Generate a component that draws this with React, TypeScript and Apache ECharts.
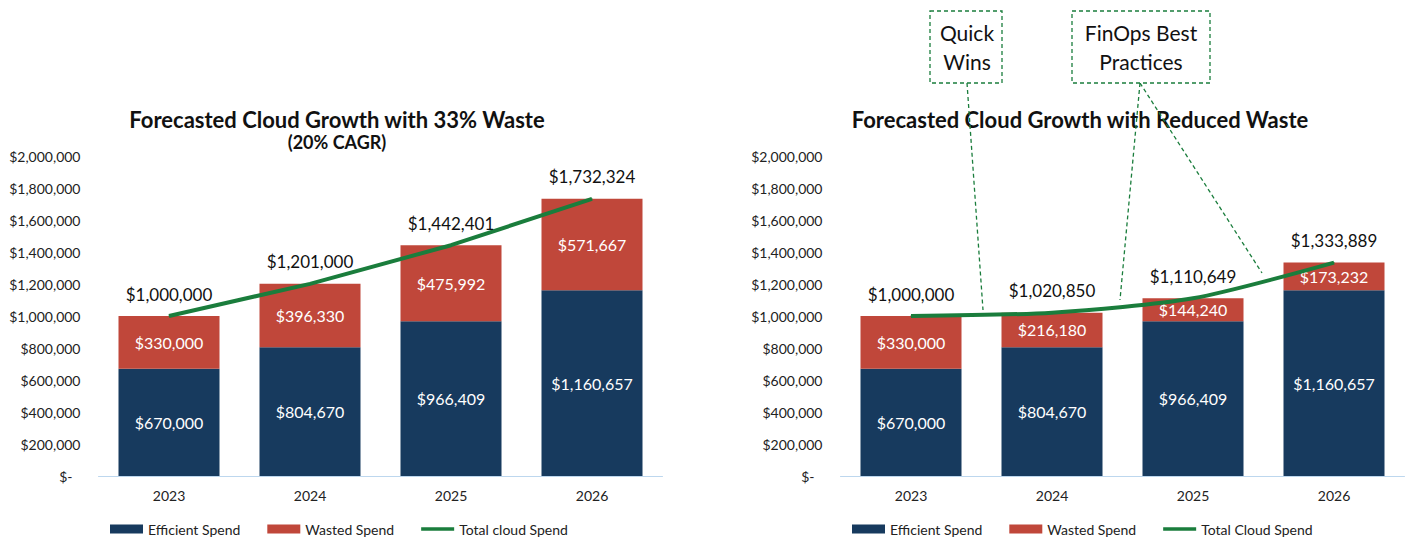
import React, { useEffect, useRef } from "react";
import * as echarts from "echarts";

const years = ["2023", "2024", "2025", "2026"];
const efficientSpend = [670000, 804670, 966409, 1160657];
const wastedLeft = [330000, 396330, 475992, 571667];
const totalLeft = [1000000, 1201000, 1442401, 1732324];
const wastedRight = [330000, 216180, 144240, 173232];
const totalRight = [1000000, 1020850, 1110649, 1333889];

const FONT = "Lato";
const NAVY = "#173a5e";
const RED = "#c0473a";
const GREEN = "#1a7d3c";
const LINE_ICON = "path://M0,0 L36,0 L36,4 L0,4 Z";

const money = (v: number) => "$" + Math.round(v).toLocaleString("en-US");

export default function App() {
  const ref = useRef<HTMLDivElement>(null);
  useEffect(() => {
    document.body.style.margin = "0";
    const chart = echarts.init(ref.current!, null, { renderer: "svg" });
    const yAxisCommon = {
      type: "value" as const,
      min: 0,
      max: 2000000,
      interval: 200000,
      splitLine: { show: false },
      axisLine: { show: false },
      axisTick: { show: false },
      axisLabel: {
        margin: 18,
        fontFamily: FONT,
        fontSize: 14,
        color: "#222",
        formatter: (v: number) => (v === 0 ? "{d|$-}" : money(v)),
        rich: { d: { fontFamily: FONT, fontSize: 14, color: "#222", padding: [0, 8, 0, 0] } },
      },
    };
    const xAxisCommon = {
      type: "category" as const,
      data: years,
      axisLine: { lineStyle: { color: "#bdd7ee", width: 1 } },
      axisTick: { show: false },
      axisLabel: { margin: 12, fontFamily: FONT, fontSize: 14, color: "#222" },
    };
    const barLabel = {
      show: true,
      position: "inside" as const,
      color: "#fff",
      fontFamily: FONT,
      fontSize: 16,
      formatter: (p: any) => money(p.value),
    };
    const lineLabel = {
      show: true,
      position: "top" as const,
      distance: 13,
      color: "#111",
      fontFamily: FONT,
      fontSize: 17,
      formatter: (p: any) => money(p.value),
    };
    const legendCommon = {
      itemWidth: 33,
      itemHeight: 9,
      itemGap: 27,
      top: 522,
      textStyle: { fontFamily: FONT, fontSize: 14, color: "#222" },
      padding: 0,
    };
    const dashed = { stroke: GREEN, lineWidth: 1.3, lineDash: [4, 3], fill: "none" };
    const lineSeries = {
      type: "line" as const,
      symbol: "circle",
      symbolSize: 1,
      showSymbol: true,
      lineStyle: { color: GREEN, width: 4 },
      itemStyle: { color: GREEN },
      label: lineLabel,
      labelLayout: { hideOverlap: false },
      z: 5,
    };
    chart.setOption({
      animation: false,
      title: [
        {
          text: "Forecasted Cloud Growth with 33% Waste",
          subtext: "(20% CAGR)",
          left: 337,
          top: 106,
          textAlign: "center",
          padding: 0,
          itemGap: 0,
          textStyle: { fontFamily: FONT, fontSize: 22, fontWeight: "bold", color: "#111", lineHeight: 26 },
          subtextStyle: { fontFamily: FONT, fontSize: 18, fontWeight: "bold", color: "#111", lineHeight: 20 },
        },
        {
          text: "Forecasted Cloud Growth with Reduced Waste",
          left: 1080,
          top: 106,
          textAlign: "center",
          padding: 0,
          textStyle: { fontFamily: FONT, fontSize: 22, fontWeight: "bold", color: "#111", lineHeight: 26 },
        },
      ],
      legend: [
        {
          ...legendCommon,
          left: 110,
          data: [
            { name: "Efficient Spend", icon: "rect" },
            { name: "Wasted Spend", icon: "rect" },
            { name: "Total cloud Spend", icon: LINE_ICON },
          ],
        },
        {
          ...legendCommon,
          left: 852,
          data: [
            { name: "Efficient Spend", icon: "rect" },
            { name: "Wasted Spend", icon: "rect" },
            { name: "Total Cloud Spend", icon: LINE_ICON },
          ],
        },
      ],
      grid: [
        { left: 98.5, width: 564, top: 156, bottom: 66 },
        { left: 840.5, width: 564, top: 156, bottom: 66 },
      ],
      xAxis: [
        { ...xAxisCommon, gridIndex: 0 },
        { ...xAxisCommon, gridIndex: 1 },
      ],
      yAxis: [
        { ...yAxisCommon, gridIndex: 0 },
        { ...yAxisCommon, gridIndex: 1 },
      ],
      series: [
        {
          name: "Efficient Spend",
          type: "bar",
          stack: "L",
          xAxisIndex: 0,
          yAxisIndex: 0,
          barWidth: 101,
          data: efficientSpend,
          itemStyle: { color: NAVY },
          label: barLabel,
        },
        {
          name: "Wasted Spend",
          type: "bar",
          stack: "L",
          xAxisIndex: 0,
          yAxisIndex: 0,
          barWidth: 101,
          data: wastedLeft,
          itemStyle: { color: RED },
          label: barLabel,
        },
        {
          ...lineSeries,
          name: "Total cloud Spend",
          xAxisIndex: 0,
          yAxisIndex: 0,
          data: totalLeft,
        },
        {
          name: "Efficient Spend",
          type: "bar",
          stack: "R",
          xAxisIndex: 1,
          yAxisIndex: 1,
          barWidth: 101,
          data: efficientSpend,
          itemStyle: { color: NAVY },
          label: barLabel,
        },
        {
          name: "Wasted Spend",
          type: "bar",
          stack: "R",
          xAxisIndex: 1,
          yAxisIndex: 1,
          barWidth: 101,
          data: wastedRight,
          itemStyle: { color: RED },
          label: barLabel,
        },
        {
          ...lineSeries,
          name: "Total Cloud Spend",
          xAxisIndex: 1,
          yAxisIndex: 1,
          data: totalRight,
          smooth: 0.25,
        },
      ],
      graphic: [
        { type: "line", shape: { x1: 967, y1: 83, x2: 983, y2: 310 }, style: dashed, z: 10 },
        { type: "line", shape: { x1: 1140, y1: 83, x2: 1120, y2: 300 }, style: dashed, z: 10 },
        { type: "line", shape: { x1: 1140, y1: 83, x2: 1262, y2: 273 }, style: dashed, z: 10 },
        { type: "rect", shape: { x: 930, y: 11, width: 72, height: 72 }, style: { ...dashed, fill: "#fff" }, z: 11 },
        { type: "rect", shape: { x: 1072, y: 11, width: 138, height: 72 }, style: { ...dashed, fill: "#fff" }, z: 11 },
        {
          type: "text",
          x: 967,
          y: 47,
          z: 12,
          style: {
            text: "Quick\nWins",
            fontFamily: FONT,
            fontSize: 21,
            lineHeight: 29,
            fill: "#111",
            align: "center",
            verticalAlign: "middle",
          },
        },
        {
          type: "text",
          x: 1141,
          y: 47,
          z: 12,
          style: {
            text: "FinOps Best\nPractices",
            fontFamily: FONT,
            fontSize: 21,
            lineHeight: 29,
            fill: "#111",
            align: "center",
            verticalAlign: "middle",
          },
        },
      ],
    });
    return () => chart.dispose();
  }, []);
  return <div ref={ref} style={{ width: 1405, height: 542 }} />;
}
